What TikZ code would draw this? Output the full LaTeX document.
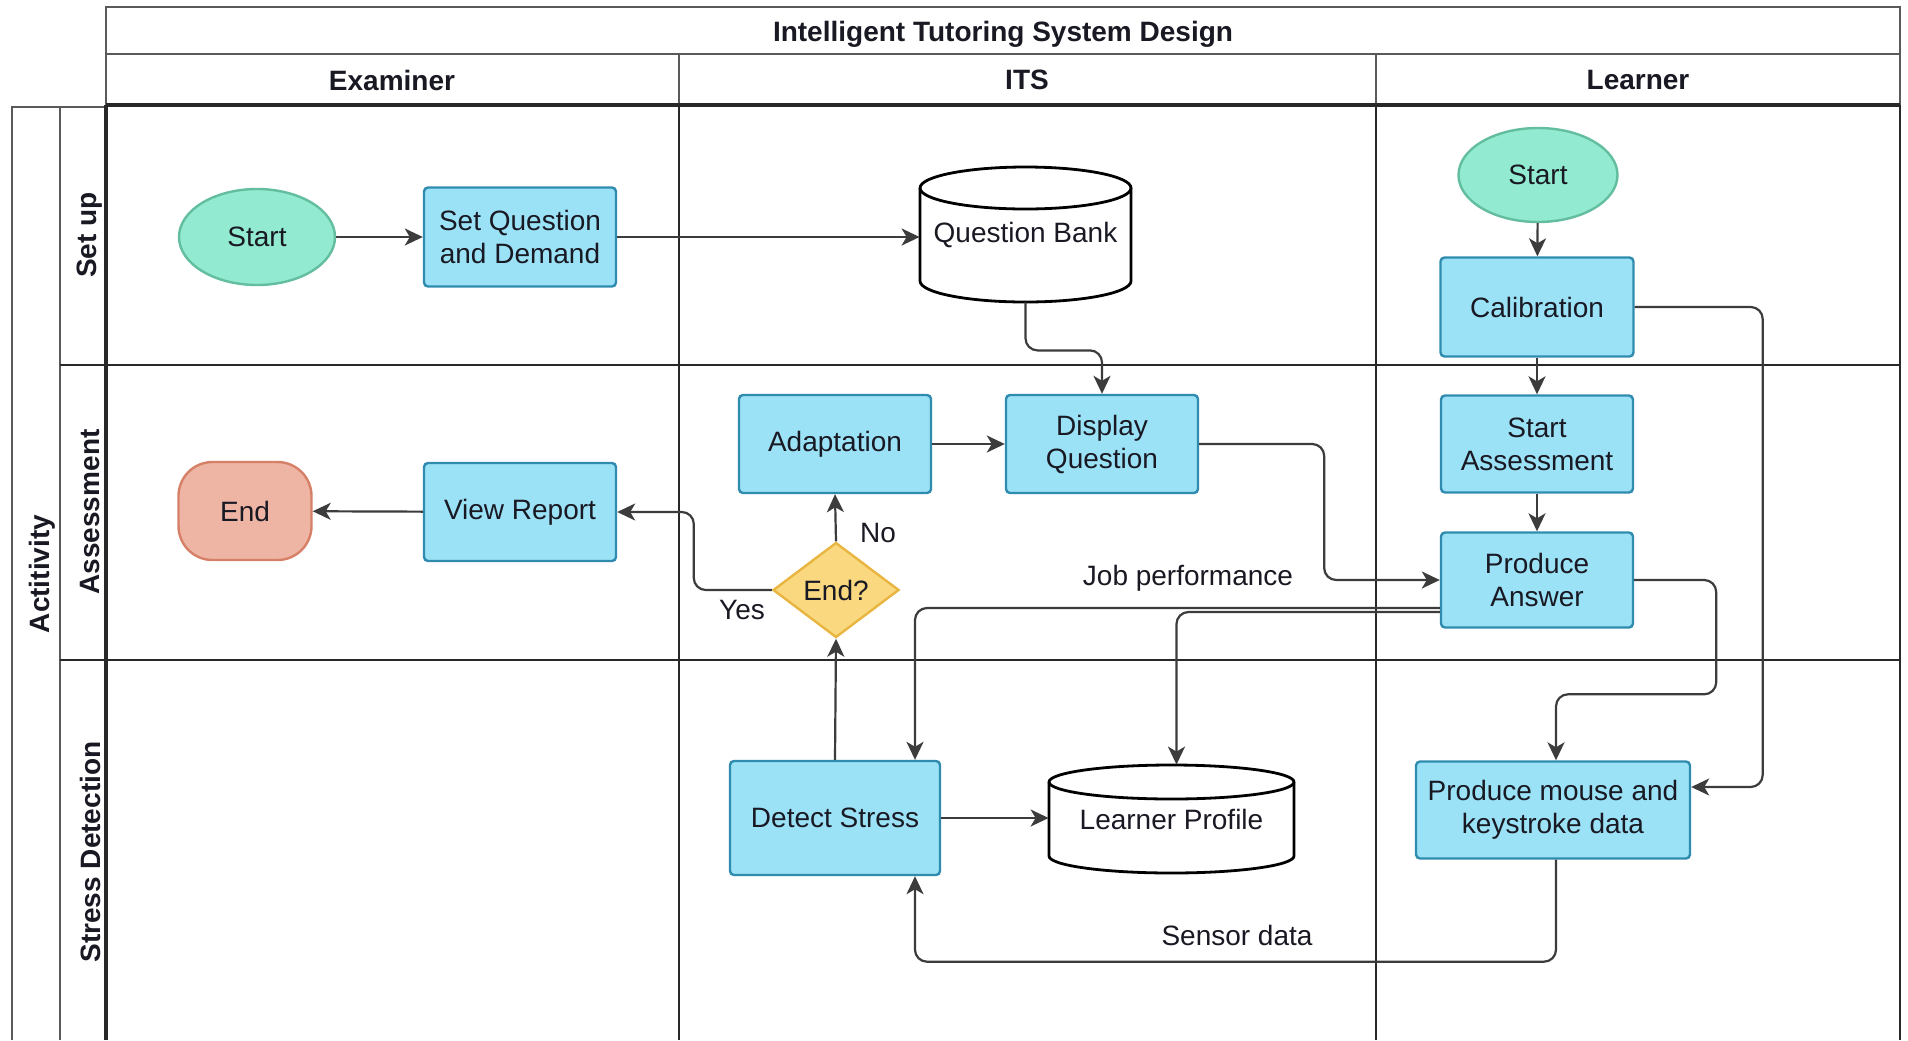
\documentclass[tikz,border=0pt]{standalone}
\usepackage{fontspec}
\setmainfont{Liberation Sans}
\usetikzlibrary{shapes.geometric,arrows.meta,calc}
\definecolor{boxfill}{RGB}{155,226,247}
\definecolor{boxdraw}{RGB}{48,140,175}
\definecolor{mintfill}{RGB}{146,234,208}
\definecolor{mintdraw}{RGB}{98,190,158}
\definecolor{endfill}{RGB}{238,181,165}
\definecolor{enddraw}{RGB}{214,128,104}
\definecolor{decfill}{RGB}{250,216,128}
\definecolor{decdraw}{RGB}{232,182,64}
\definecolor{lanecol}{RGB}{40,40,40}
\definecolor{framecol}{RGB}{90,90,90}
\definecolor{conncol}{RGB}{60,60,60}
\definecolor{txt}{RGB}{25,25,35}
\begin{document}
\begin{tikzpicture}[x=0.5pt,y=-0.5pt,
  every node/.style={font=\fontsize{14}{16.5}\selectfont, text=txt},
  lane/.style={draw=lanecol, line width=1.2pt},
  box/.style={draw=boxdraw, fill=boxfill, line width=1.2pt, rounded corners=2pt, align=center, inner sep=0pt},
  term/.style={ellipse, draw=mintdraw, fill=mintfill, line width=1.2pt, inner sep=0pt},
  endterm/.style={draw=enddraw, fill=endfill, line width=1.2pt, rounded corners=17pt, inner sep=0pt},
  decision/.style={diamond, draw=decdraw, fill=decfill, line width=1.2pt, inner sep=0pt, aspect=1.33},
  store/.style={inner sep=0pt, align=center},
  cylline/.style={draw=black, line width=1.4pt, fill=white},
  conn/.style={draw=conncol, line width=1.1pt, rounded corners=6pt, -{Stealth[length=9pt,width=8.5pt,inset=2.5pt]}},
  lbl/.style={inner sep=1pt},
  hdr/.style={font=\fontsize{14}{16}\selectfont\bfseries},
]
\fill[white] (0,0) rectangle (1908,1040);
\useasboundingbox (0,0) rectangle (1908,1040);

% frame: title and header rows
\draw[draw=framecol, line width=1pt] (106,7) rectangle (1900,54);
\draw[draw=framecol, line width=1pt] (106,54) rectangle (1900,105);
\draw[draw=framecol, line width=1pt] (679,54) -- (679,105);
\draw[draw=framecol, line width=1pt] (1376,54) -- (1376,105);

% lanes
\draw[lane, draw=framecol] (12,1040) -- (12,107) -- (106,107);
\draw[lane, draw=framecol] (60,107) -- (60,1040);
\draw[lane] (60,365) -- (1900,365);
\draw[lane] (60,660) -- (1900,660);
\draw[lane] (679,105) -- (679,1040);
\draw[lane] (1376,105) -- (1376,1040);
\draw[lane] (1900,105) -- (1900,1040);
\draw[lane, line width=1.8pt] (106,105) -- (106,1040);
\draw[lane, line width=2.2pt] (106,105) -- (1900,105);

% headers
\node[hdr] (title) at (1003,34) {Intelligent Tutoring System Design};
\node[hdr] (hex) at (392,80) {Examiner};
\node[hdr] (hits) at (1027,80) {ITS};
\node[hdr] (hlr) at (1638,80) {Learner};
\node[hdr, rotate=90] (act) at (42,574) {Actitivity};
\node[hdr, rotate=90] (l1) at (90,235) {Set up};
\node[hdr, rotate=90] (l2) at (90,512) {Assessment};
\node[hdr, rotate=90] (l3) at (90,852) {Stress Detection};

% cylinders
\filldraw[cylline] (920,188) -- (920,281) arc[start angle=180,end angle=360,x radius=52.75pt,y radius=10.5pt] -- (1131,188) arc[start angle=0,end angle=180,x radius=52.75pt,y radius=10.5pt] -- cycle;
\draw[cylline, fill=none] (920,188) arc[start angle=180,end angle=360,x radius=52.75pt,y radius=10.5pt];
\filldraw[cylline] (1049,782) -- (1049,856) arc[start angle=180,end angle=360,x radius=61.25pt,y radius=8.5pt] -- (1294,782) arc[start angle=0,end angle=180,x radius=61.25pt,y radius=8.5pt] -- cycle;
\draw[cylline, fill=none] (1049,782) arc[start angle=180,end angle=360,x radius=61.25pt,y radius=8.5pt];

% nodes
\node[term, minimum width=78pt, minimum height=48pt] (s1) at (257,237) {Start};
\node[box, minimum width=96pt, minimum height=49.5pt] (setq) at (520,237) {Set Question\\and Demand};
\node[store, minimum width=105.5pt, minimum height=67.5pt] (qb) at (1025.5,234.5) {\raisebox{-2pt}{Question Bank}};
\node[term, minimum width=79.5pt, minimum height=47pt] (s2) at (1538,175) {Start};
\node[box, minimum width=96.5pt, minimum height=49.5pt] (calib) at (1537,307) {Calibration};
\node[endterm, minimum width=66.5pt, minimum height=49pt] (end) at (245,511) {End};
\node[box, minimum width=96pt, minimum height=49pt] (view) at (520,512) {View Report};
\node[box, minimum width=96pt, minimum height=49pt] (adapt) at (835,444) {Adaptation};
\node[box, minimum width=96pt, minimum height=49pt] (disp) at (1102,444) {Display\\Question};
\node[decision, minimum width=63pt, minimum height=47.5pt] (dec) at (836,590) {End?};
\node[box, minimum width=96pt, minimum height=48.5pt] (sass) at (1537,444) {Start\\Assessment};
\node[box, minimum width=96pt, minimum height=47.5pt] (pans) at (1537,580) {Produce\\Answer};
\node[box, minimum width=105pt, minimum height=57pt] (det) at (835,818) {Detect Stress};
\node[store, minimum width=122.5pt, minimum height=54pt] (lprof) at (1171.5,819) {Learner Profile};
\node[box, minimum width=137pt, minimum height=48.5pt] (pmk) at (1553,810) {Produce mouse and\\keystroke data};

% connectors
\draw[conn] (s1) -- (setq);
\draw[conn] (setq.east) -- (setq.east -| qb.west);
\draw[conn] (qb.south) -- ++(0,48) -| (disp.north);
\draw[conn] (s2) -- (calib);
\draw[conn] (calib) -- (sass);
\draw[conn] (sass) -- (pans);
\draw[conn] (calib.east) -- ++(128,0) |- ($(pmk.east)+(0,-23)$);
\draw[conn] (disp.east) -- ++(125,0) |- (pans.west);
\draw[conn] (adapt) -- (disp);
\draw[conn] (dec.north) -- (adapt.south);
\draw[conn] (dec.west) -- ++(-78,0) |- (view.east);
\draw[conn] (view) -- (end);
\draw[conn] (det.north) -- (dec.south);
\draw[conn] ($(pans.west)+(0,28)$) -| ($(det.north)+(80,0)$);
\draw[conn] ($(pans.west)+(0,32)$) -| ($(lprof.north)+(5,0)$);
\draw[conn] (pans.east) -- ++(82,0) |- ($(pmk.north)+(3,-66)$) -- ($(pmk.north)+(3,0)$);
\draw[conn] ($(pmk.south)+(3,0)$) -- ++(0,102) -| ($(det.south)+(80,0)$);
\draw[conn] (det.east) -- (det.east -| lprof.west);

% labels
\node[lbl] (no) at (878,533) {No};
\node[lbl] (yes) at (742,610) {Yes};
\node[lbl] (jp) at (1188,578) {Job performance};
\node[lbl] (sd) at (1237,935) {Sensor data};
\end{tikzpicture}
\end{document}
